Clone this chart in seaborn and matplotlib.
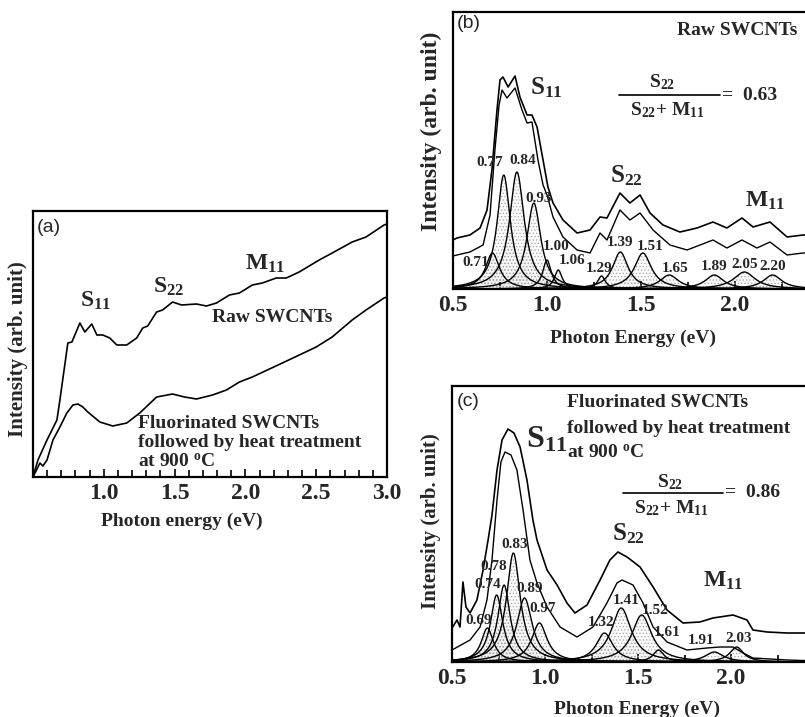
import numpy as np
import pandas as pd
import matplotlib
matplotlib.use("Agg")
import matplotlib.pyplot as plt
from matplotlib.lines import Line2D
from matplotlib.ticker import MultipleLocator
import seaborn as sns

# ---------------- data ----------------
# Panel (a): absorption spectra, photon energy (eV) vs intensity (arb.)
a_raw_x = [0.50, 0.535, 0.599, 0.669, 0.690, 0.746, 0.775, 0.831, 0.866, 0.915, 0.951, 0.993,
           1.042, 1.092, 1.162, 1.232, 1.275, 1.310, 1.373, 1.415, 1.486, 1.549, 1.655, 1.725,
           1.796, 1.887, 1.958, 2.049, 2.120, 2.218, 2.289, 2.380, 2.521, 2.613, 2.754, 2.852,
           2.979, 3.00]
a_raw_y = [0, 17, 37, 57, 77, 134, 135, 154, 145, 153, 142, 142,
           139, 132, 132, 139, 149, 151, 165, 167, 175, 172, 173, 171,
           174, 182, 184, 192, 194, 199, 199, 205, 217, 224, 235, 240,
           252, 253]
a_fl_x = [0.50, 0.549, 0.570, 0.599, 0.641, 0.690, 0.739, 0.782, 0.817, 0.852, 0.887, 0.972,
          1.063, 1.162, 1.254, 1.373, 1.486, 1.570, 1.655, 1.768, 1.866, 1.958, 2.049, 2.261,
          2.500, 2.613, 2.754, 2.852, 2.979, 3.00]
a_fl_y = [0, 14, 11, 17, 37, 50, 64, 72, 73, 70, 65, 55,
          51, 54, 64, 80, 83, 80, 78, 82, 87, 95, 100, 114,
          130, 140, 157, 167, 179, 180]

# Panel (b): raw SWCNTs, measured (upper) and fitted sum (lower)
b_meas_x = [0.50, 0.521, 0.590, 0.644, 0.681, 0.707, 0.734, 0.750, 0.766, 0.793, 0.830, 0.856,
            0.894, 0.920, 0.947, 0.979, 1.005, 1.032, 1.085, 1.160, 1.229, 1.282, 1.319, 1.388,
            1.441, 1.495, 1.548, 1.617, 1.707, 1.798, 1.883, 1.957, 2.037, 2.096, 2.186, 2.277,
            2.362, 2.45]
b_meas_y = [49, 51, 54, 61, 79, 119, 179, 209, 212, 202, 213, 192,
            174, 174, 162, 129, 102, 86, 69, 56, 59, 72, 71, 96,
            86, 94, 76, 64, 57, 61, 67, 61, 71, 62, 67, 52,
            54, 54]
b_fit_x = [0.50, 0.521, 0.590, 0.660, 0.697, 0.723, 0.745, 0.761, 0.787, 0.830, 0.867, 0.894,
           0.920, 0.952, 0.979, 1.000, 1.032, 1.085, 1.160, 1.229, 1.282, 1.319, 1.388, 1.441,
           1.495, 1.564, 1.654, 1.745, 1.883, 1.957, 2.037, 2.117, 2.186, 2.277, 2.362, 2.45]
b_fit_y = [33, 34, 37, 44, 74, 139, 184, 199, 191, 201, 179, 166,
           167, 129, 104, 94, 72, 52, 39, 36, 56, 49, 79, 69,
           76, 59, 44, 39, 49, 41, 49, 41, 47, 34, 36, 36]
# fitted components: centre (eV), peak height (arb.), FWHM (eV)
b_centers = [0.71, 0.77, 0.84, 0.93, 1.00, 1.06, 1.29, 1.39, 1.51, 1.65, 1.89, 2.05, 2.20]
b_heights = [36, 114, 117, 86, 29, 19, 13, 37, 36, 14, 14, 17, 14]
b_fwhm = [0.09, 0.085, 0.095, 0.09, 0.055, 0.05, 0.05, 0.10, 0.11, 0.12, 0.12, 0.14, 0.12]
b_labels = ["0.71", "0.77", "0.84", "0.93", "1.00", "1.06", "1.29", "1.39", "1.51",
            "1.65", "1.89", "2.05", "2.20"]

# Panel (c): fluorinated + heat treated
c_meas_x = [0.50, 0.527, 0.543, 0.559, 0.575, 0.597, 0.634, 0.667, 0.694, 0.715, 0.742, 0.769,
            0.801, 0.833, 0.866, 0.903, 0.935, 0.957, 1.011, 1.065, 1.118, 1.161, 1.226, 1.296,
            1.349, 1.392, 1.441, 1.511, 1.581, 1.656, 1.742, 1.833, 1.903, 2.011, 2.086, 2.118,
            2.194, 2.301, 2.387, 2.478]
c_meas_y = [34, 42, 35, 80, 55, 49, 62, 92, 122, 147, 192, 222,
            233, 229, 215, 182, 142, 122, 92, 77, 59, 49, 57, 82,
            102, 110, 105, 95, 75, 52, 39, 40, 44, 47, 42, 32,
            30, 29, 29, 29]
c_fit_x = [0.50, 0.597, 0.651, 0.688, 0.715, 0.742, 0.763, 0.785, 0.817, 0.849, 0.882, 0.919,
           0.957, 1.011, 1.081, 1.172, 1.258, 1.333, 1.387, 1.414, 1.473, 1.527, 1.581, 1.656,
           1.763, 1.871, 1.941, 2.011, 2.065, 2.118, 2.301, 2.478]
c_fit_y = [12, 22, 35, 62, 102, 162, 200, 210, 207, 192, 152, 102,
           79, 55, 35, 25, 35, 59, 79, 82, 77, 59, 35, 20,
           12, 14, 15, 15, 9, 4, 2, 1]
c_centers = [0.69, 0.74, 0.78, 0.83, 0.89, 0.97, 1.32, 1.41, 1.52, 1.61, 1.91, 2.03]
c_heights = [34, 67, 77, 109, 64, 39, 29, 54, 47, 12, 10, 15]
c_fwhm = [0.08, 0.08, 0.08, 0.09, 0.10, 0.10, 0.11, 0.13, 0.13, 0.07, 0.12, 0.09]
c_labels = ["0.69", "0.74", "0.78", "0.83", "0.89", "0.97", "1.32", "1.41", "1.52",
            "1.61", "1.91", "2.03"]

# ---------------- style ----------------
sns.set_theme(style="ticks")
plt.rcParams["font.family"] = ["Liberation Serif", "DejaVu Serif"]
plt.rcParams["font.weight"] = "bold"
plt.rcParams["mathtext.fontset"] = "custom"
plt.rcParams["mathtext.rm"] = "Liberation Serif:bold"
plt.rcParams["mathtext.it"] = "Liberation Serif:bold"
plt.rcParams["mathtext.bf"] = "Liberation Serif:bold"
plt.rcParams["mathtext.default"] = "rm"
plt.rcParams["hatch.linewidth"] = 0.5
plt.rcParams["hatch.color"] = "#a8a8a8"

W, H = 805, 717
fig = plt.figure(figsize=(W / 100, H / 100), dpi=100)


def fx(px):
    return px / W


def fy(py):
    return 1 - py / H


def ftext(px, py, s, **kw):
    kw.setdefault("fontweight", "bold")
    fig.text(fx(px), fy(py), s, **kw)


def style_axes(ax, xmax, ymax, major, minor, xlabel, xl_coords, yl_coords, ylsize):
    ax.set_xlim(0.5, xmax)
    ax.set_ylim(0, ymax)
    for s in ax.spines.values():
        s.set_linewidth(1.6)
        s.set_color("black")
    ax.xaxis.set_major_locator(MultipleLocator(major))
    ax.xaxis.set_minor_locator(MultipleLocator(minor))
    ax.set_yticks([])
    ax.tick_params(axis="x", which="both", direction="in", bottom=True, top=False,
                   color="black", width=1.2, labelsize=17, pad=4)
    ax.tick_params(axis="x", which="major", length=6)
    ax.tick_params(axis="x", which="minor", length=5)
    for t in ax.get_xticklabels():
        t.set_fontweight("bold")
    ax.set_xlabel(xlabel, fontsize=14, fontweight="bold", va="top")
    ax.xaxis.set_label_coords(*xl_coords)
    ax.set_ylabel("Intensity (arb. unit)", fontsize=ylsize, fontweight="bold")
    ax.yaxis.set_label_coords(*yl_coords)


def draw_components(ax, centers, heights, fwhm, labels, offsets, xmax):
    grid = np.linspace(0.5, xmax, 900)
    for c, h, w, lab, off in zip(centers, heights, fwhm, labels, offsets):
        g = (w / 2) ** 2
        prof = h * g / ((grid - c) ** 2 + g)
        ax.fill_between(grid, 0, prof, facecolor=(0.7, 0.7, 0.7, 0.06), hatch=".....",
                        edgecolor="#a8a8a8", linewidth=0)
        sns.lineplot(x=grid, y=prof, ax=ax, color="black", lw=1.0, estimator=None, sort=False)
        ax.annotate(lab, xy=(c, h), xytext=off, textcoords="offset pixels",
                    ha="center", va="center", fontsize=11, fontweight="bold")


# ---------------- panel (a) ----------------
axa = fig.add_axes([33 / W, 1 - 477 / H, 354 / W, 266 / H])
dfa = pd.concat([
    pd.DataFrame({"E": a_raw_x, "I": a_raw_y, "s": "raw"}),
    pd.DataFrame({"E": a_fl_x, "I": a_fl_y, "s": "fl"}),
])
for key in ["raw", "fl"]:
    d = dfa[dfa.s == key]
    sns.lineplot(data=d, x="E", y="I", ax=axa, color="black", lw=1.2, estimator=None, sort=False)
style_axes(axa, 3.0, 266, 0.5, 0.1, "Photon energy (eV)", (0.42, -0.135), (-0.015, 0.48), 15)
axa.set_xticks([1.0, 1.5, 2.0, 2.5, 3.0])

ftext(37, 227, "(a)", fontsize=14, fontweight="normal", family="Liberation Sans", va="center")
ftext(80, 307, r"S$_{11}$", fontsize=17)
ftext(153, 293, r"S$_{22}$", fontsize=17)
ftext(245, 270, r"M$_{11}$", fontsize=17)
ftext(212, 322, "Raw SWCNTs", fontsize=14)
ftext(138, 428, "Fluorinated SWCNTs", fontsize=14)
ftext(138, 447, "followed by heat treatment", fontsize=14)
ftext(138, 467, r"at 900 $^{\mathrm{o}}$C", fontsize=14)

# ---------------- panel (b) ----------------
xmax_b = 2.45
axb = fig.add_axes([453 / W, 1 - 289 / H, (xmax_b - 0.5) * 188 / W, 277 / H])
b_offsets = [(-17, -9), (-14, 13), (6, 11), (5, 4), (9, 13), (14, 10), (-2, 8), (0, 9),
             (7, 7), (6, 7), (0, 8), (0, 7), (0, 8)]
draw_components(axb, b_centers, b_heights, b_fwhm, b_labels, b_offsets, xmax_b)
sns.lineplot(x=b_meas_x, y=b_meas_y, ax=axb, color="black", lw=1.2, estimator=None, sort=False)
sns.lineplot(x=b_fit_x, y=b_fit_y, ax=axb, color="black", lw=1.0, estimator=None, sort=False)
style_axes(axb, xmax_b, 277, 0.5, 0.25, "Photon Energy (eV)", (0.49, -0.148), (-0.03, 0.57), 17)
axb.set_xticks([0.5, 1.0, 1.5, 2.0])

ftext(457, 24, "(b)", fontsize=14, fontweight="normal", family="Liberation Sans", va="center")
ftext(677, 35, "Raw SWCNTs", fontsize=14)
ftext(530, 94, r"S$_{11}$", fontsize=18)
ftext(662, 87, r"S$_{22}$", fontsize=14, ha="center")
fig.add_artist(Line2D([fx(619), fx(720)], [fy(95), fy(95)], color="black", lw=1.2))
ftext(667, 115, r"S$_{22}$+ M$_{11}$", fontsize=14, ha="center")
ftext(722, 100, "=  0.63", fontsize=14)
ftext(610, 182, r"S$_{22}$", fontsize=18)
ftext(745, 207, r"M$_{11}$", fontsize=17)

# ---------------- panel (c) ----------------
xmax_c = 2.45
axc = fig.add_axes([452 / W, 1 - 662 / H, (xmax_c - 0.5) * 186 / W, 276 / H])
c_offsets = [(-9, 8), (-9, 11), (-10, 18), (1, 8), (5, 9), (3, 14), (-3, 11), (5, 7),
             (13, 4), (9, 18), (-13, 12), (2, 9)]
draw_components(axc, c_centers, c_heights, c_fwhm, c_labels, c_offsets, xmax_c)
sns.lineplot(x=c_meas_x, y=c_meas_y, ax=axc, color="black", lw=1.2, estimator=None, sort=False)
sns.lineplot(x=c_fit_x, y=c_fit_y, ax=axc, color="black", lw=1.0, estimator=None, sort=False)
style_axes(axc, xmax_c, 276, 0.5, 0.25, "Photon Energy (eV)", (0.51, -0.14), (-0.03, 0.51), 15)
axc.set_xticks([0.5, 1.0, 1.5, 2.0])

ftext(457, 402, "(c)", fontsize=14, fontweight="normal", family="Liberation Sans", va="center")
ftext(567, 407, "Fluorinated SWCNTs", fontsize=14)
ftext(567, 433, "followed by heat treatment", fontsize=14)
ftext(567, 458, r"at 900 $^{\mathrm{o}}$C", fontsize=14)
ftext(526, 447, r"S$_{11}$", fontsize=23)
ftext(670, 487, r"S$_{22}$", fontsize=14, ha="center")
fig.add_artist(Line2D([fx(623), fx(723)], [fy(493), fy(493)], color="black", lw=1.2))
ftext(671, 513, r"S$_{22}$+ M$_{11}$", fontsize=14, ha="center")
ftext(725, 497, "=  0.86", fontsize=14)
ftext(612, 540, r"S$_{22}$", fontsize=18)
ftext(703, 587, r"M$_{11}$", fontsize=17)

fig.savefig("out.png", dpi=100)
